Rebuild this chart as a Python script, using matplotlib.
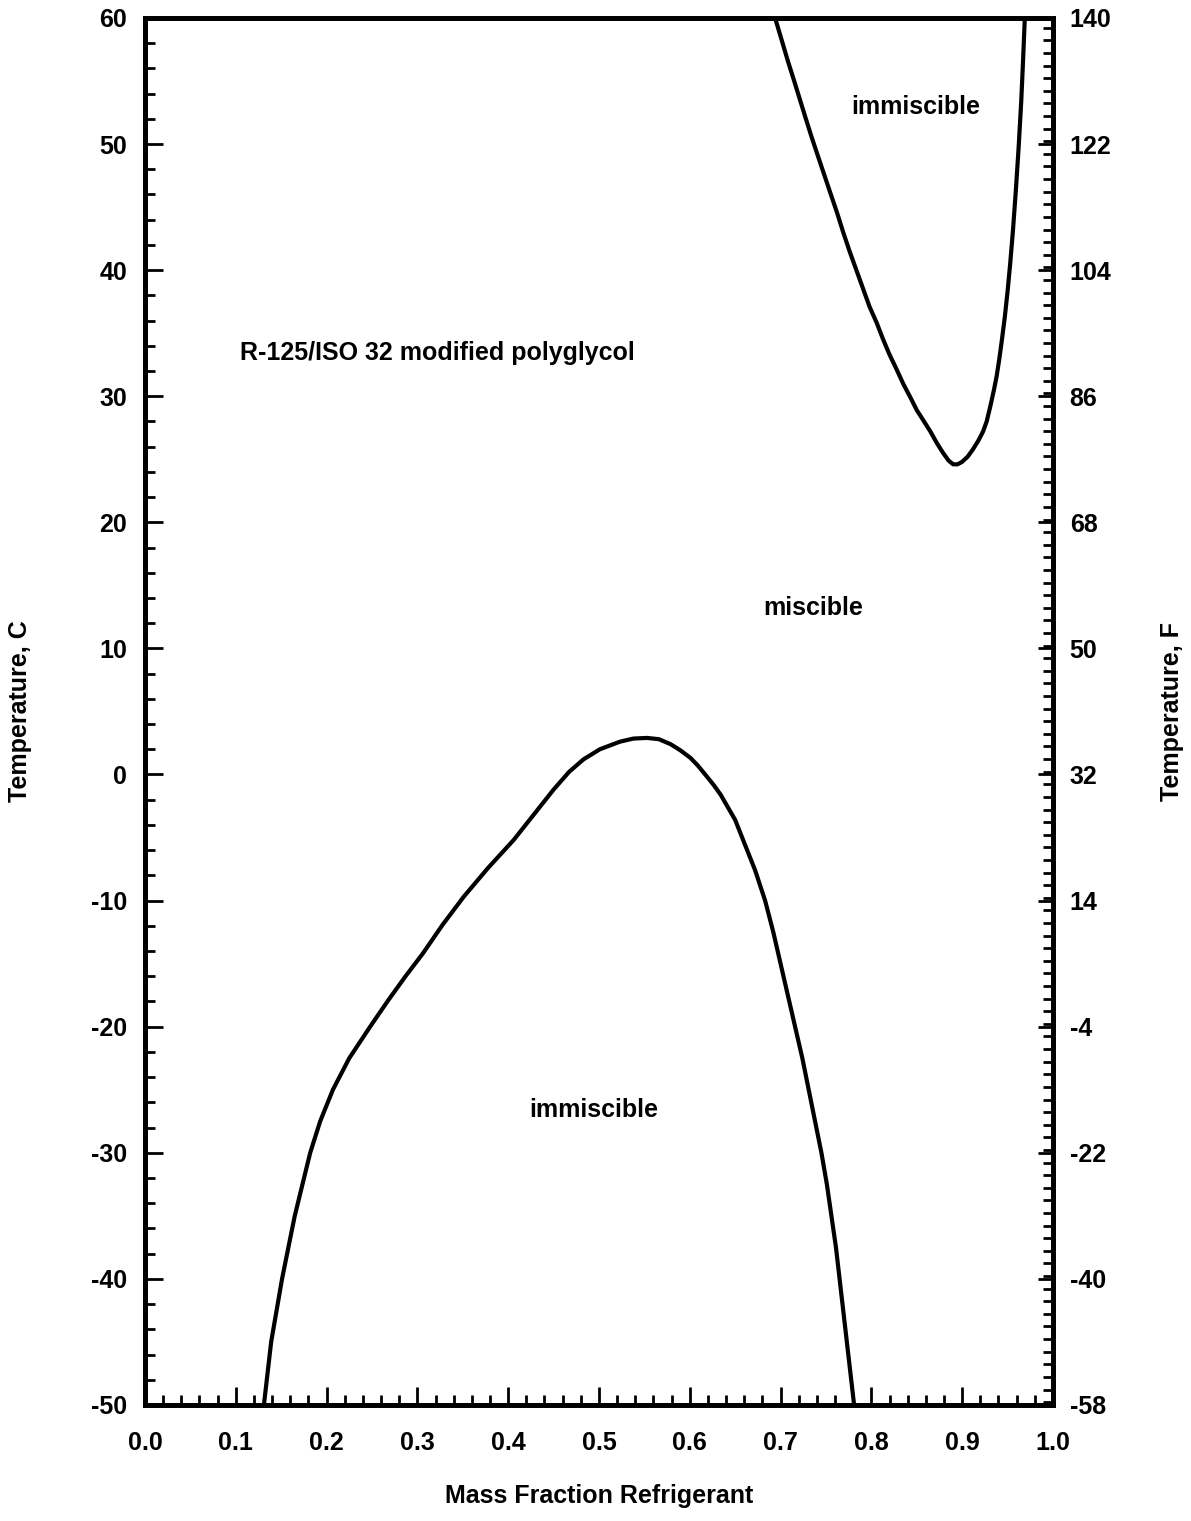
import numpy as np
import matplotlib
matplotlib.use("Agg")
import matplotlib.pyplot as plt
from matplotlib.ticker import MultipleLocator

plt.rcParams['font.family'] = ['Liberation Sans', 'DejaVu Sans']
plt.rcParams['font.weight'] = 'bold'
plt.rcParams['axes.unicode_minus'] = False

# lower immiscible dome (mass fraction, temperature C)
low_x = [0.131, 0.139, 0.151, 0.165, 0.182, 0.193, 0.207, 0.225, 0.248, 0.268,
         0.287, 0.306, 0.328, 0.351, 0.378, 0.406, 0.428, 0.450, 0.467, 0.483,
         0.501, 0.523, 0.538, 0.553, 0.566, 0.579, 0.590, 0.601, 0.609, 0.617,
         0.626, 0.634, 0.642, 0.650, 0.661, 0.672, 0.683, 0.692, 0.700, 0.708,
         0.716, 0.724, 0.731, 0.738, 0.745, 0.751, 0.756, 0.761, 0.765, 0.769,
         0.773, 0.777, 0.781]
low_t = [-50, -45, -40, -35, -30, -27.5, -25, -22.5, -20.0, -17.9,
         -16.0, -14.2, -11.9, -9.7, -7.4, -5.2, -3.2, -1.2, 0.2, 1.2,
         2.0, 2.6, 2.85, 2.9, 2.8, 2.4, 1.9, 1.3, 0.7, 0.0,
         -0.8, -1.6, -2.6, -3.6, -5.6, -7.6, -10.0, -12.5, -15.0, -17.5,
         -20.0, -22.5, -25.0, -27.5, -30.0, -32.5, -35.0, -37.5, -40.0, -42.5,
         -45.0, -47.5, -50.0]

# upper immiscible region
up_x = [0.694, 0.701, 0.708, 0.715, 0.721, 0.727, 0.734, 0.740, 0.747, 0.754,
        0.762, 0.769, 0.776, 0.784, 0.791, 0.798, 0.806, 0.813, 0.820, 0.828,
        0.835, 0.843, 0.850, 0.858, 0.865, 0.872, 0.879, 0.885, 0.890, 0.895,
        0.900, 0.906, 0.912, 0.918, 0.923, 0.927, 0.931, 0.935, 0.938, 0.941,
        0.944, 0.947, 0.950, 0.953, 0.956, 0.959, 0.962, 0.965, 0.967, 0.969]
up_t = [60, 58.3, 56.6, 55.0, 53.6, 52.2, 50.6, 49.3, 47.8, 46.3,
        44.6, 43.0, 41.5, 39.9, 38.5, 37.1, 35.8, 34.5, 33.3, 32.1,
        31.0, 29.9, 28.9, 28.0, 27.2, 26.3, 25.5, 24.9, 24.6, 24.6,
        24.8, 25.2, 25.8, 26.5, 27.2, 28.0, 29.2, 30.5, 31.6, 33.0,
        34.6, 36.3, 38.3, 40.6, 43.2, 46.2, 49.5, 53.3, 56.5, 60]

c_ticks = [-50, -40, -30, -20, -10, 0, 10, 20, 30, 40, 50, 60]
f_labels = ['-58', '-40', '-22', '-4', '14', '32', '50', '68', '86', '104', '122', '140']

fs = 18
fig = plt.figure(figsize=(11.91, 15.21), dpi=100)
ax = fig.add_axes([0.1217, 0.0763, 0.7624, 0.9119])

ax.plot(low_x, low_t, color='black', lw=3)
ax.plot(up_x, up_t, color='black', lw=3)

ax.set_xlim(0, 1)
ax.set_ylim(-50, 60)
ax.set_xticks(np.arange(0, 1.01, 0.1))
ax.set_xticklabels(['%.1f' % v for v in np.arange(0, 1.01, 0.1)])
ax.xaxis.set_minor_locator(MultipleLocator(0.02))
ax.set_yticks(c_ticks)
ax.yaxis.set_minor_locator(MultipleLocator(2))

for s in ax.spines.values():
    s.set_linewidth(3.5)

ax.tick_params(axis='both', which='both', direction='in', top=False, right=False,
               labelsize=fs, width=2)
ax.tick_params(axis='x', which='major', length=13, pad=19)
ax.tick_params(axis='x', which='minor', length=7)
ax.tick_params(axis='y', which='major', length=13, pad=13)
ax.tick_params(axis='y', which='minor', length=7)

ax2 = ax.twinx()
ax2.set_ylim(-58, 140)
ax2.set_yticks([int(v) for v in f_labels])
ax2.set_yticklabels(f_labels)
ax2.yaxis.set_minor_locator(MultipleLocator(1.8))
ax2.tick_params(axis='y', which='both', direction='in', labelsize=fs, width=2)
ax2.tick_params(axis='y', which='major', length=11, pad=12)
ax2.tick_params(axis='y', which='minor', length=7)
for s in ax2.spines.values():
    s.set_linewidth(3.5)

ax.text(0.849, 52.9, 'immiscible', fontsize=fs, ha='center', va='center')
ax.text(0.322, 33.4, 'R-125/ISO 32 modified polyglycol', fontsize=fs, ha='center', va='center')
ax.text(0.736, 13.2, 'miscible', fontsize=fs, ha='center', va='center')
ax.text(0.494, -26.6, 'immiscible', fontsize=fs, ha='center', va='center')

ax.text(-0.138, 0.5, 'Temperature, C', fontsize=fs, rotation=90,
        ha='center', va='center', transform=ax.transAxes)
ax.text(1.131, 0.5, 'Temperature, F', fontsize=fs, rotation=90,
        ha='center', va='center', transform=ax.transAxes)
ax.text(0.5, -0.066, 'Mass Fraction Refrigerant', fontsize=fs,
        ha='center', va='center', transform=ax.transAxes)

fig.savefig('out.png', dpi=100)
